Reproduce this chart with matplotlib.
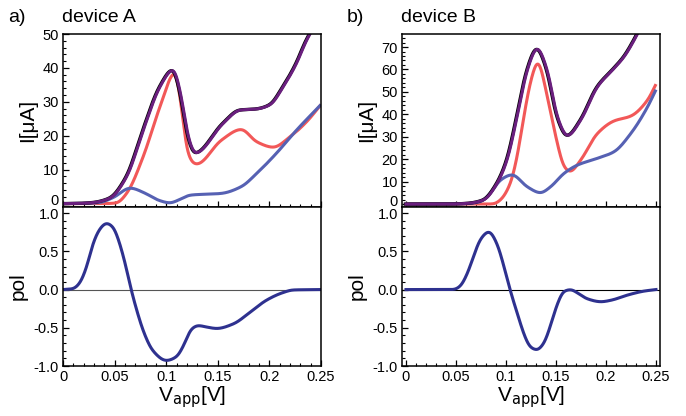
import numpy as np
import matplotlib.pyplot as plt
from matplotlib.ticker import MultipleLocator, FixedLocator, FixedFormatter
from matplotlib.transforms import ScaledTranslation

plt.rcParams['font.family'] = ['Liberation Sans', 'DejaVu Sans']
plt.rcParams['axes.linewidth'] = 1.1

# ---- device A: currents (uA) vs applied voltage (V)
vA_tot = [0.0, 0.015, 0.029, 0.0455, 0.0617, 0.0778, 0.094, 0.1069, 0.115, 0.121, 0.128,
          0.1553, 0.1715, 0.1877, 0.2006, 0.2135, 0.2264, 0.236, 0.2393]
iA_tot = [0.0, 0.05, 0.3, 1.6, 7.9, 21.7, 34.5, 39.6, 31.0, 20.0, 14.8,
          23.7, 27.6, 27.9, 29.1, 34.5, 41.4, 48.2, 50.0]
vA_up = [0.0, 0.04, 0.052, 0.0617, 0.0778, 0.094, 0.1085, 0.115, 0.12, 0.1263, 0.1295,
         0.1534, 0.1728, 0.1877, 0.2038, 0.22, 0.236, 0.25]
iA_up = [0.0, 0.0, 0.2, 3.0, 13.9, 28.6, 38.8, 28.0, 15.8, 11.9, 11.6,
         18.7, 21.9, 18.2, 16.6, 19.7, 24.1, 29.2]
vA_dn = [0.0, 0.02, 0.035, 0.0488, 0.065, 0.08, 0.0925, 0.1037, 0.113, 0.1231, 0.1534,
         0.1728, 0.1877, 0.2067, 0.2264, 0.25]
iA_dn = [0.0, 0.05, 0.3, 1.8, 4.6, 3.0, 1.0, 0.2, 1.2, 2.5, 3.0,
         5.0, 8.9, 14.8, 21.7, 29.2]
vA_pol = [0.0, 0.0097, 0.016, 0.023, 0.029, 0.036, 0.042, 0.0485, 0.055, 0.061, 0.066,
          0.071, 0.078, 0.087, 0.1, 0.11, 0.118, 0.124, 0.131, 0.139, 0.149, 0.165,
          0.181, 0.197, 0.213, 0.223, 0.25]
pA = [0.0, 0.01, 0.08, 0.3, 0.6, 0.8, 0.87, 0.82, 0.6, 0.3, 0.0,
      -0.25, -0.55, -0.8, -0.93, -0.88, -0.7, -0.52, -0.47, -0.49, -0.51, -0.45,
      -0.3, -0.14, -0.04, -0.005, 0.0]

# ---- device B
vB_tot = [0.0, 0.04, 0.061, 0.0776, 0.0911, 0.1011, 0.1111, 0.1212, 0.1312, 0.1413, 0.1513,
          0.1613, 0.1747, 0.1914, 0.2081, 0.2182, 0.2282, 0.2316]
iB_tot = [0.0, 0.0, 0.3, 1.8, 9.2, 19.6, 38.9, 59.7, 69.6, 59.7, 38.9,
          30.3, 37.4, 52.3, 60.5, 65.7, 73.1, 76.0]
vB_up = [0.0, 0.08, 0.0877, 0.0944, 0.1044, 0.1111, 0.1178, 0.1245, 0.1318, 0.1413, 0.1513,
         0.158, 0.164, 0.1747, 0.1914, 0.2081, 0.2249, 0.2417, 0.25]
iB_up = [0.0, 0.0, 0.1, 1.8, 9.2, 21.1, 38.9, 54.5, 63.6, 47.9, 27.1,
         16.6, 14.4, 19.6, 31.5, 37.1, 39.2, 46.4, 53.5]
vB_dn = [0.0, 0.055, 0.0743, 0.0843, 0.0944, 0.1061, 0.1212, 0.1345, 0.1446, 0.158, 0.1714,
         0.1914, 0.2081, 0.2249, 0.2417, 0.25]
iB_dn = [0.0, 0.1, 1.0, 4.8, 10.7, 13.1, 7.7, 5.0, 7.7, 13.7, 17.4,
         20.4, 23.3, 31.5, 43.4, 51.0]
vB_pol = [0.0, 0.0475, 0.054, 0.061, 0.068, 0.074, 0.083, 0.091, 0.098, 0.104, 0.111,
          0.119, 0.124, 0.131, 0.138, 0.145, 0.151, 0.158, 0.165, 0.171, 0.181, 0.195,
          0.205, 0.222, 0.238, 0.25]
pB = [0.0, 0.0, 0.04, 0.2, 0.45, 0.65, 0.76, 0.6, 0.3, 0.0, -0.3,
      -0.62, -0.75, -0.79, -0.7, -0.45, -0.2, -0.02, 0.0, -0.04, -0.12, -0.16,
      -0.14, -0.07, -0.02, 0.0]

c_tot = '#6a1f7e'
c_up = '#f25858'
c_dn = '#5661b3'
c_pol = '#2e318f'


def smooth(v, y, n=800, sigma=0.0022):
    # monotone cubic through the read-off points, then a light gaussian pass
    v = np.asarray(v, float)
    y = np.asarray(y, float)
    h = np.diff(v)
    d = np.diff(y) / h
    m = np.zeros_like(y)
    m[0], m[-1] = d[0], d[-1]
    for k in range(1, len(y) - 1):
        if d[k - 1] * d[k] > 0:
            w1 = 2 * h[k] + h[k - 1]
            w2 = h[k] + 2 * h[k - 1]
            m[k] = (w1 + w2) / (w1 / d[k - 1] + w2 / d[k])
    xs = np.linspace(v[0], v[-1], n)
    idx = np.clip(np.searchsorted(v, xs) - 1, 0, len(v) - 2)
    t = (xs - v[idx]) / h[idx]
    h00 = 2 * t**3 - 3 * t**2 + 1
    h10 = t**3 - 2 * t**2 + t
    h01 = -2 * t**3 + 3 * t**2
    h11 = t**3 - t**2
    ys = h00 * y[idx] + h10 * h[idx] * m[idx] + h01 * y[idx + 1] + h11 * h[idx] * m[idx + 1]
    dx = xs[1] - xs[0]
    r = int(4 * sigma / dx)
    k = np.exp(-0.5 * (np.arange(-r, r + 1) * dx / sigma) ** 2)
    k /= k.sum()
    # extend linearly at the ends so the filter does not bend them
    left = ys[0] + (ys[1] - ys[0]) * np.arange(-r, 0)
    right = ys[-1] + (ys[-1] - ys[-2]) * np.arange(1, r + 1)
    ys = np.convolve(np.concatenate([left, ys, right]), k, mode='valid')
    return xs, ys


fig = plt.figure(figsize=(6.86, 4.16), dpi=100)
W, H = 686, 416


def box(x0, y0, x1, y1):
    return [x0 / W, 1 - y1 / H, (x1 - x0) / W, (y1 - y0) / H]


panels = [
    dict(left=63, right=321, xlim=(0, 0.25), ylim=(-1.0, 50), ymajor=10,
         cur=[(vA_up, iA_up, c_up), (vA_dn, iA_dn, c_dn)],
         tot=(vA_tot, iA_tot), pol=(vA_pol, pA), zc='#555555',
         tag='a)', name='device A', tagx=8, namex=62),
    dict(left=402, right=660, xlim=(-0.004, 0.254), ylim=(-1.3, 75.8), ymajor=10,
         cur=[(vB_up, iB_up, c_up), (vB_dn, iB_dn, c_dn)],
         tot=(vB_tot, iB_tot), pol=(vB_pol, pB), zc='black',
         tag='b)', name='device B', tagx=347, namex=401),
]

xt = [0, 0.05, 0.1, 0.15, 0.2, 0.25]
xtl = ['0', '0.05', '0.1', '0.15', '0.2', '0.25']
yt_pol = [-1.0, -0.5, 0.0, 0.5, 1.0]
ytl_pol = ['-1.0', '-0.5', '0.0', '0.5', '1.0']

top_axes = []
for p in panels:
    ax1 = fig.add_axes(box(p['left'], 34, p['right'], 207))
    ax2 = fig.add_axes(box(p['left'], 207, p['right'], 366))
    top_axes.append(ax1)

    for v, i, c in p['cur']:
        xs, ys = smooth(v, i)
        ax1.plot(xs, ys, color=c, lw=2.2, solid_capstyle='butt')
    xs, ys = smooth(*p['tot'])
    ax1.plot(xs - 0.0006, ys, color='black', lw=2.4)
    ax1.plot(xs, ys, color=c_tot, lw=2.2)
    ax1.set_xlim(p['xlim'])
    ax1.set_ylim(p['ylim'])
    ax1.yaxis.set_major_locator(MultipleLocator(p['ymajor']))
    ax1.yaxis.set_minor_locator(MultipleLocator(2))
    ax1.xaxis.set_major_locator(FixedLocator(xt))
    ax1.xaxis.set_minor_locator(MultipleLocator(0.01))
    ax1.set_xticklabels([])
    ax1.set_ylabel('I[μA]', fontsize=15, labelpad=4)

    xs, ys = smooth(*p['pol'])
    ax2.axhline(0, color=p['zc'], lw=0.8)
    ax2.plot(xs, ys, color=c_pol, lw=2.2)
    ax2.set_xlim(p['xlim'])
    ax2.set_ylim(-1.0, 1.08)
    ax2.yaxis.set_major_locator(FixedLocator(yt_pol))
    ax2.yaxis.set_major_formatter(FixedFormatter(ytl_pol))
    ax2.yaxis.set_minor_locator(MultipleLocator(0.1))
    ax2.xaxis.set_major_locator(FixedLocator(xt))
    ax2.xaxis.set_major_formatter(FixedFormatter(xtl))
    ax2.xaxis.set_minor_locator(MultipleLocator(0.01))
    ax2.set_ylabel('pol', fontsize=15, labelpad=4)
    ax2.set_xlabel(r'V$_{\mathrm{app}}$[V]', fontsize=15, labelpad=0)

    for ax in (ax1, ax2):
        ax.tick_params(which='both', direction='in', top=False, right=False,
                       labelsize=10.5, pad=3)
        ax.tick_params(which='major', length=4, width=0.9)
        ax.tick_params(which='minor', length=2.5, width=0.8)

    fig.text(p['tagx'] / W, 1 - 22 / H, p['tag'], fontsize=14, va='baseline')
    fig.text(p['namex'] / W, 1 - 22 / H, p['name'], fontsize=14, va='baseline')

fig.align_ylabels()

# lift the "0" of the current axes a little off the panel seam
fig.canvas.draw()
lift = ScaledTranslation(0, 4 / 100, fig.dpi_scale_trans)
for ax in top_axes:
    for tick in ax.yaxis.get_major_ticks():
        if tick.get_loc() == 0:
            tick.label1.set_transform(tick.label1.get_transform() + lift)

fig.savefig('out.png', dpi=100)
